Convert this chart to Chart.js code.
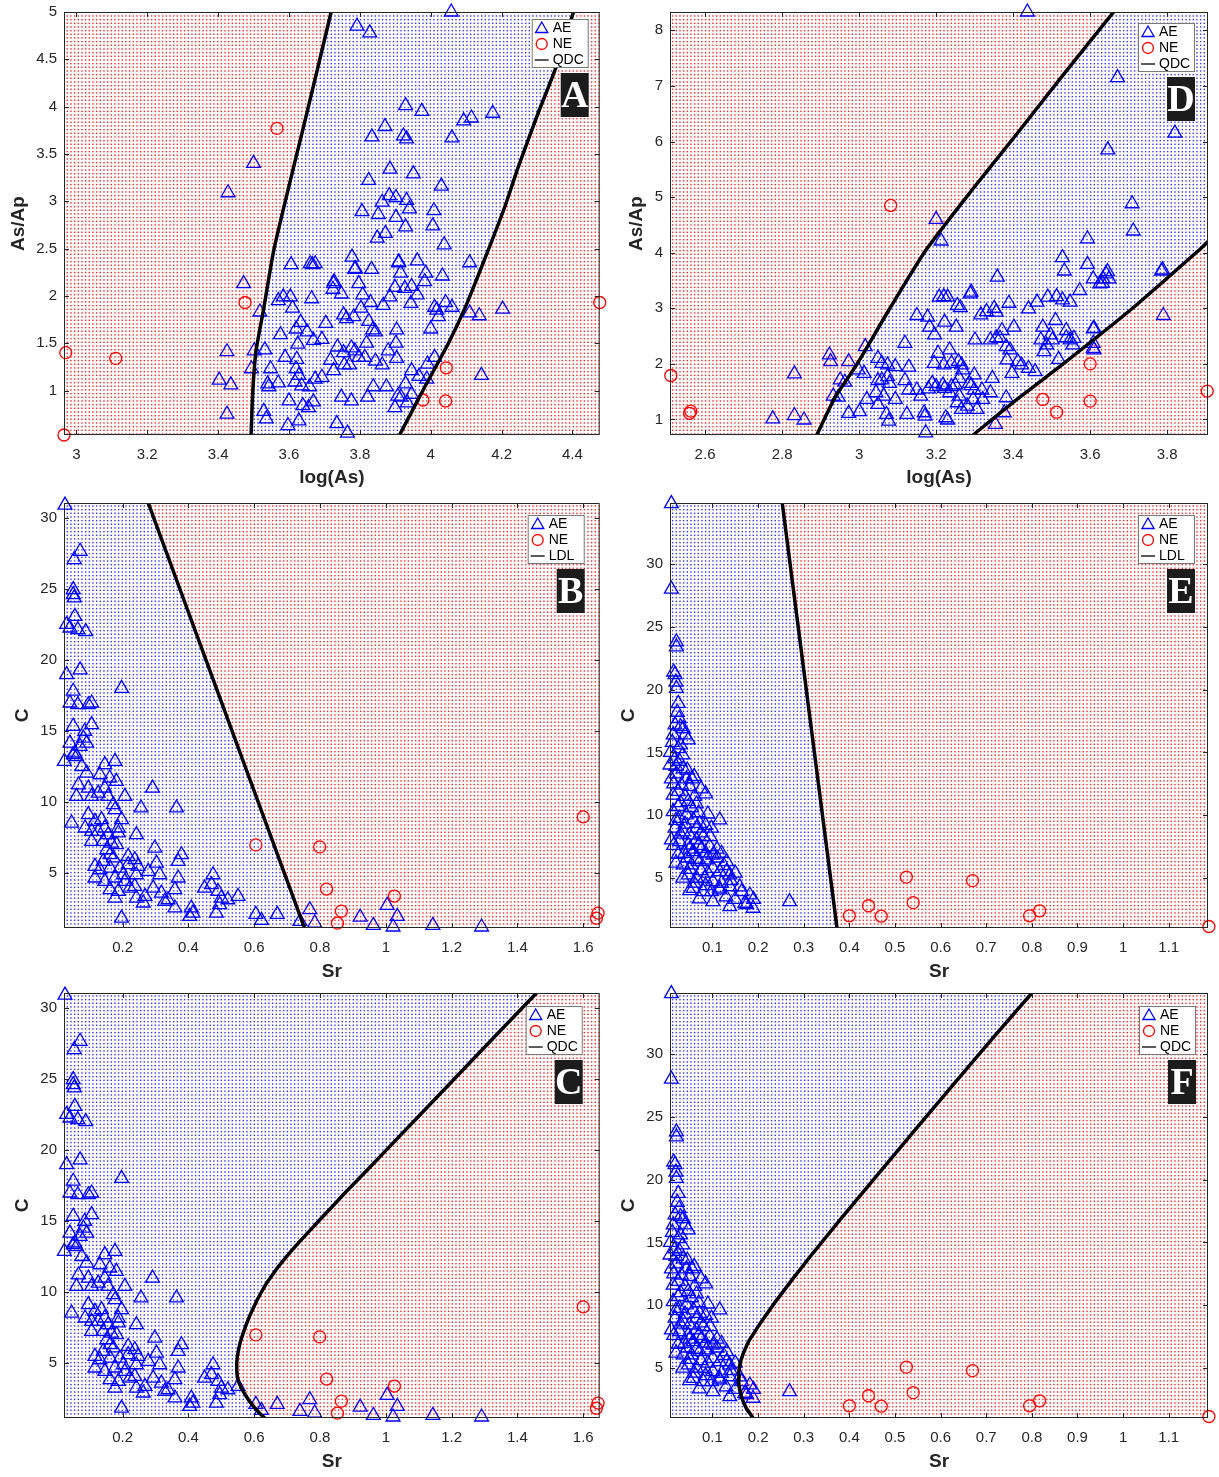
<!DOCTYPE html>
<html><head><meta charset="utf-8">
<script src="https://cdn.jsdelivr.net/npm/chart.js@4.4.1/dist/chart.umd.min.js"></script>
<style>
html,body{margin:0;padding:0;background:#fff;}
body{width:1219px;height:1477px;position:relative;overflow:hidden;}
canvas{position:absolute;}
</style></head><body>
<canvas id="cA" width="609" height="490" style="left:0px;top:0px"></canvas>
<canvas id="cD" width="610" height="490" style="left:609px;top:0px"></canvas>
<canvas id="cB" width="609" height="494" style="left:0px;top:490px"></canvas>
<canvas id="cE" width="610" height="494" style="left:609px;top:490px"></canvas>
<canvas id="cC" width="609" height="494" style="left:0px;top:980px"></canvas>
<canvas id="cF" width="610" height="494" style="left:609px;top:980px"></canvas>
<script>
// ---------------- DATA ----------------
// Panel A : log(As) vs As/Ap
const A_AE = [[4.058,5.0],[3.792,4.85],[3.828,4.78],[3.929,4.01],[3.975,3.95],[3.871,3.79],[3.834,3.68],[3.923,3.69],[3.932,3.66],[4.06,3.67],[4.093,3.85],[4.115,3.88],[4.175,3.93],[3.885,3.34],[3.951,3.29],[3.825,3.22],[4.03,3.16],[3.883,3.06],[3.902,3.04],[3.863,2.99],[3.932,3.01],[3.94,2.92],[3.806,2.89],[3.852,2.86],[3.902,2.83],[4.009,2.90],[3.929,2.73],[4.006,2.74],[3.849,2.61],[3.872,2.66],[4.038,2.54],[3.50,3.40],[3.428,3.09],
[3.472,2.13],[3.425,1.41],[3.403,1.11],[3.436,1.06],[3.425,0.75],[3.518,1.83],[3.502,1.42],[3.494,1.23],[3.532,1.43],[3.548,1.23],[3.54,1.07],[3.543,1.04],[3.529,0.78],[3.536,0.70],[3.606,2.33],[3.66,2.34],[3.674,2.34],[3.666,2.33],[3.778,2.41],[3.786,2.28],[3.833,2.28],[3.91,2.36],[3.915,2.24],[3.962,2.37],[3.986,2.24],[3.983,2.15],[4.033,2.21],[4.11,2.35],[3.584,1.99],[3.57,1.95],[3.604,1.99],[3.61,1.87],[3.664,1.97],[3.726,2.13],[3.724,2.07],[3.748,2.02],[3.797,2.13],[3.808,2.01],[3.83,1.93],[3.803,1.87],[3.866,1.90],[3.885,1.99],[3.899,2.09],[3.927,2.08],[3.946,2.10],[3.962,2.01],[3.944,1.92],[4.011,1.88],[4.017,1.85],[4.022,1.78],[4.042,1.93],[4.06,1.88],[4.11,1.82],[4.137,1.79],[4.203,1.86],[4.143,1.16],[3.633,1.72],[3.62,1.65],[3.576,1.59],[3.651,1.62],[3.625,1.49],[3.669,1.53],[3.693,1.54],[3.704,1.71],[3.754,1.80],[3.762,1.76],[3.783,1.78],[3.825,1.73],[3.836,1.64],[3.844,1.62],[3.819,1.50],[3.737,1.46],[3.754,1.40],[3.776,1.45],[3.797,1.35],[3.786,1.42],[3.88,1.42],[3.902,1.50],[3.904,1.64],[4.0,1.65],[4.011,1.35],[3.991,1.28],[3.946,1.21],[3.929,1.07],[3.946,0.96],[3.916,0.93],[3.899,0.82],[3.934,0.87],[3.989,1.12],[3.967,1.15],[3.875,1.04],[3.838,1.04],[3.822,0.93],[3.863,1.27],[3.844,1.31],[3.814,1.35],[3.717,1.32],[3.726,1.21],[3.756,1.27],[3.771,1.27],[3.693,1.14],[3.735,0.65],[3.765,0.55],[3.748,0.93],[3.776,0.89],[3.589,1.35],[3.622,1.33],[3.62,1.23],[3.628,1.16],[3.617,1.09],[3.57,1.08],[3.60,0.89],[3.658,1.04],[3.639,0.84],[3.655,0.82],[3.669,0.88],[3.597,0.63],[3.628,0.68],[3.674,1.12],[3.636,1.05],[3.904,1.34],[3.907,0.94],[3.909,2.35],[3.787,2.29],[3.727,2.15]];
const A_NE = [[3.476,1.93],[2.97,1.40],[3.111,1.34],[2.965,0.53],[4.477,1.93],[4.044,1.24],[4.042,0.89],[3.978,0.90],[3.566,3.77]];
const A_QDC_L = [[3.493,0.53],[3.498,1.0],[3.507,1.42],[3.527,1.83],[3.557,2.48],[3.596,3.1],[3.636,3.71],[3.678,4.36],[3.719,5.0]];
const A_QDC_R = [[3.912,0.53],[3.985,1.05],[4.05,1.5],[4.1,1.9],[4.162,2.48],[4.21,2.95],[4.247,3.36],[4.30,3.9],[4.353,4.41],[4.403,5.0]];
const A_X = [2.965, 4.477], A_Y = [0.53, 5.0];
const A_XT = [3,3.2,3.4,3.6,3.8,4,4.2,4.4];
const A_YT = [1,1.5,2,2.5,3,3.5,4,4.5,5];

// Panel D : log(As) vs As/Ap
const D_AE = [[2.776,1.01],[2.832,1.82],[2.832,1.07],[2.857,0.99],[2.923,2.16],[2.926,2.04],[2.933,1.42],[2.946,1.40],[2.951,1.71],[2.963,1.67],[2.973,2.04],[2.998,1.89],[3.013,1.83],[2.973,1.11],[3.001,1.14],[3.016,2.31],[3.02,1.36],[3.049,2.10],[3.059,2.01],[3.074,1.98],[3.094,1.95],[3.044,1.48],[3.049,1.70],[3.059,1.71],[3.074,1.77],[3.079,1.65],[3.064,1.42],[3.049,1.27],[3.071,1.09],[3.077,0.97],[3.094,1.36],[3.119,2.37],[3.129,1.94],[3.119,1.70],[3.129,1.53],[3.15,1.53],[3.15,2.87],[3.178,2.84],[3.183,2.66],[3.196,2.52],[3.208,3.20],[3.22,3.21],[3.23,3.20],[3.291,3.29],[3.289,3.26],[3.255,3.05],[3.263,3.01],[3.222,2.75],[3.252,2.66],[3.301,2.43],[3.316,2.88],[3.331,2.94],[3.351,3.00],[3.356,2.93],[3.359,3.56],[3.389,3.09],[3.44,2.99],[3.462,3.11],[3.49,3.20],[3.513,3.21],[3.528,3.15],[3.548,3.11],[3.528,3.91],[3.533,3.67],[3.573,3.32],[3.593,3.79],[3.608,3.53],[3.625,3.44],[3.633,3.53],[3.641,3.62],[3.649,3.53],[3.785,3.67],[3.79,2.87],[3.608,2.63],[3.608,2.28],[3.608,2.37],[3.477,2.66],[3.51,2.78],[3.538,2.60],[3.558,2.46],[3.472,2.43],[3.487,2.34],[3.502,2.43],[3.48,2.22],[3.497,2.52],[3.518,2.08],[3.538,2.47],[3.548,2.43],[3.555,2.34],[3.341,2.43],[3.356,2.47],[3.366,2.46],[3.371,2.60],[3.402,2.66],[3.382,2.31],[3.392,2.25],[3.384,2.07],[3.397,1.83],[3.412,2.04],[3.422,1.98],[3.44,1.92],[3.457,1.86],[3.346,1.74],[3.341,1.48],[3.382,1.39],[3.377,1.12],[3.354,0.91],[3.299,1.80],[3.319,1.53],[3.296,1.36],[3.299,1.53],[3.286,1.65],[3.291,1.61],[3.269,1.89],[3.26,1.74],[3.205,2.19],[3.195,2.01],[3.22,1.98],[3.24,2.01],[3.258,2.04],[3.266,1.98],[3.235,2.25],[3.19,1.65],[3.18,1.55],[3.2,1.59],[3.218,1.62],[3.24,1.59],[3.16,1.42],[3.169,1.12],[3.171,1.06],[3.173,0.76],[3.124,1.09],[3.225,1.03],[3.23,0.99],[3.255,1.30],[3.266,1.18],[3.281,1.24],[3.306,1.18],[3.25,1.62],[3.235,1.48],[3.222,1.56],[3.26,1.42],[3.321,1.36],[3.437,8.33],[3.671,7.15],[3.646,5.85],[3.82,6.15],[3.709,4.88],[3.712,4.39],[3.593,4.25],[3.20,4.60],[3.213,4.21],[3.645,3.66],[3.632,3.45],[3.788,3.69],[3.61,2.64],[3.61,2.25]];
const D_NE = [[2.511,1.79],[2.56,1.11],[2.563,1.15],[3.477,1.36],[3.513,1.13],[3.60,1.33],[3.60,2.0],[3.904,1.51],[3.082,4.85]];
const D_QDC_L = [[2.89,0.72],[2.938,1.4],[2.995,2.0],[3.08,3.0],[3.175,4.06],[3.29,5.1],[3.41,6.14],[3.53,7.2],[3.661,8.33]];
const D_QDC_R = [[3.296,0.72],[3.41,1.36],[3.53,2.0],[3.71,3.0],[3.88,4.03],[3.906,4.2]];
const D_X = [2.509, 3.906], D_Y = [0.72, 8.33];
const D_XT = [2.6,2.8,3,3.2,3.4,3.6,3.8];
const D_YT = [1,2,3,4,5,6,7,8];

// Panels B & C : Sr vs C (same samples)
const BC_AE = [[0.025,30.9],[0.071,27.65],[0.053,27.07],[0.05,24.95],[0.05,24.6],[0.053,24.37],[0.055,23.07],[0.03,22.5],[0.04,22.25],[0.064,22.14],[0.088,22.0],[0.03,18.97],[0.071,19.3],[0.197,18.0],[0.05,17.8],[0.04,16.97],[0.064,16.85],[0.096,16.85],[0.106,16.97],[0.05,15.33],[0.085,14.98],[0.106,15.45],[0.04,14.15],[0.055,13.45],[0.071,13.92],[0.091,14.15],[0.081,14.5],[0.023,12.86],[0.05,13.33],[0.06,13.2],[0.076,12.5],[0.091,12.04],[0.146,12.63],[0.177,12.86],[0.131,11.92],[0.161,11.69],[0.181,11.45],[0.066,11.2],[0.06,10.4],[0.096,10.98],[0.106,10.4],[0.126,10.63],[0.146,10.98],[0.156,10.4],[0.207,10.4],[0.172,9.81],[0.291,10.98],[0.256,9.58],[0.364,9.58],[0.045,8.52],[0.096,9.11],[0.116,8.64],[0.136,8.76],[0.177,9.46],[0.197,8.76],[0.086,8.17],[0.106,7.93],[0.126,7.93],[0.146,8.17],[0.156,7.7],[0.187,8.17],[0.106,7.23],[0.141,7.23],[0.166,7.11],[0.187,7.82],[0.242,7.7],[0.152,6.64],[0.162,6.29],[0.182,7.0],[0.172,6.06],[0.217,6.17],[0.237,5.94],[0.298,6.76],[0.141,5.82],[0.116,5.47],[0.131,5.23],[0.162,5.35],[0.192,5.35],[0.217,5.59],[0.247,5.47],[0.202,4.88],[0.242,4.88],[0.116,4.65],[0.146,4.41],[0.177,4.65],[0.207,4.41],[0.237,4.06],[0.162,3.83],[0.187,3.71],[0.222,3.94],[0.278,5.12],[0.313,4.88],[0.303,5.7],[0.369,5.82],[0.379,6.29],[0.369,4.65],[0.359,3.83],[0.293,3.94],[0.318,3.59],[0.268,3.36],[0.242,3.24],[0.263,2.89],[0.177,3.24],[0.338,3.12],[0.359,2.54],[0.328,3.0],[0.197,1.83],[0.409,2.54],[0.414,2.18],[0.404,1.95],[0.449,3.94],[0.475,4.88],[0.47,4.18],[0.49,3.71],[0.5,3.24],[0.52,3.12],[0.551,3.36],[0.495,2.77],[0.485,2.18],[0.605,2.09],[0.622,1.67],[0.67,2.09],[0.739,1.6],[0.769,2.42],[0.784,1.48],[0.922,1.9],[0.962,1.31],[1.004,2.72],[1.035,1.95],[1.022,1.2],[1.143,1.31],[1.291,1.2]];
const BC_NE = [[0.605,6.98],[0.799,6.84],[0.82,3.87],[0.865,2.32],[0.853,1.47],[1.026,3.38],[1.6,8.95],[1.645,2.18],[1.64,1.82]];
const B_LDL = [[0.278,31.05],[0.753,1.13]];
const C_QDC = [[0.632,1.13],[0.615,1.5],[0.6,1.9],[0.586,2.3],[0.572,2.8],[0.562,3.2],[0.554,3.6],[0.549,4.0],[0.547,4.5],[0.547,5.0],[0.549,5.5],[0.553,6.0],[0.558,6.5],[0.565,7.0],[0.574,7.6],[0.584,8.2],[0.596,8.8],[0.608,9.4],[0.622,10.0],[0.637,10.6],[0.655,11.2],[0.674,11.8],[0.695,12.4],[0.717,13.0],[0.74,13.6],[0.764,14.2],[0.796,15.0],[0.837,16.0],[0.877,17.0],[0.94,18.5],[1.01,20.2],[1.105,22.5],[1.208,25.0],[1.332,28.0],[1.458,31.05]];
const BC_X = [0.022, 1.65], BC_Y = [1.13, 31.05];
const BC_XT = [0.2,0.4,0.6,0.8,1,1.2,1.4,1.6];
const BC_YT = [5,10,15,20,25,30];

// Panels E & F : Sr vs C (same samples)
const EF_AE = [[0.01,34.8],[0.01,28.0],[0.021,23.8],[0.021,23.4],[0.015,21.4],[0.018,21.2],[0.02,20.6],[0.021,20.1],[0.025,18.9],[0.023,18.2],[0.027,17.7],[0.018,17.2],[0.03,17.05],[0.036,16.9],[0.047,16.0],[0.04,16.4],[0.014,16.4],[0.025,15.3],[0.018,14.5],[0.007,14.0],[0.028,14.3],[0.036,13.7],[0.021,13.3],[0.01,12.9],[0.043,12.9],[0.032,12.4],[0.05,12.3],[0.061,11.5],[0.014,11.6],[0.04,11.5],[0.025,10.7],[0.047,11.1],[0.054,10.6],[0.116,9.63],[0.098,8.97],[0.014,10.29],[0.028,9.76],[0.043,10.03],[0.058,9.63],[0.072,9.36],[0.018,8.97],[0.036,8.7],[0.05,8.44],[0.065,8.97],[0.01,8.04],[0.028,7.9],[0.047,7.64],[0.065,8.04],[0.08,8.3],[0.039,6.98],[0.058,7.11],[0.076,7.37],[0.094,7.51],[0.101,6.84],[0.12,6.98],[0.131,6.31],[0.138,5.25],[0.036,6.05],[0.054,6.05],[0.072,6.31],[0.087,6.45],[0.101,5.78],[0.116,5.52],[0.131,5.52],[0.047,5.25],[0.065,4.99],[0.083,4.99],[0.101,4.72],[0.12,4.59],[0.138,4.32],[0.058,4.19],[0.08,3.93],[0.098,3.93],[0.116,4.06],[0.071,3.34],[0.101,3.13],[0.138,2.73],[0.164,3.93],[0.171,3.0],[0.182,3.66],[0.189,2.6],[0.269,3.13],[0.012,15.8],[0.03,15.6],[0.008,15.0],[0.035,14.8],[0.02,13.9],[0.045,13.6],[0.06,13.1],[0.015,12.5],[0.055,12.9],[0.075,12.1],[0.025,11.9],[0.085,11.7],[0.03,11.0],[0.065,10.9],[0.07,10.2],[0.09,10.1],[0.02,9.6],[0.04,9.3],[0.085,9.2],[0.03,8.5],[0.075,8.6],[0.095,8.3],[0.015,7.6],[0.05,7.3],[0.07,7.6],[0.085,7.0],[0.11,7.3],[0.025,6.9],[0.045,6.6],[0.065,6.5],[0.11,6.6],[0.125,6.0],[0.02,6.2],[0.05,5.7],[0.075,5.6],[0.09,5.4],[0.15,5.4],[0.035,5.0],[0.06,4.6],[0.085,4.4],[0.115,4.2],[0.14,4.8],[0.16,4.3],[0.05,4.0],[0.13,3.5],[0.15,3.3],[0.175,2.9],[0.19,3.3]];
const EF_NE = [[0.40,2.0],[0.442,2.8],[0.47,1.97],[0.525,5.08],[0.54,3.05],[0.67,4.8],[0.795,2.0],[0.817,2.4],[1.188,1.15]];
const E_LDL = [[0.253,34.85],[0.373,1.03]];
const F_QDC = [[0.189,1.03],[0.182,1.4],[0.175,1.74],[0.169,2.2],[0.163,2.8],[0.159,3.4],[0.157,4.1],[0.158,4.8],[0.161,5.45],[0.169,6.3],[0.18,7.17],[0.206,8.64],[0.237,10.23],[0.276,12.1],[0.317,14.0],[0.384,17.0],[0.453,20.0],[0.545,24.0],[0.638,28.0],[0.72,31.5],[0.80,34.85]];
const EF_X = [0.007, 1.186], EF_Y = [1.03, 34.85];
const EF_XT = [0.1,0.2,0.3,0.4,0.5,0.6,0.7,0.8,0.9,1,1.1];
const EF_YT = [5,10,15,20,25,30];

// ---------------- RENDERING ----------------
const FONT = "'Liberation Sans', Arial, Helvetica, sans-serif";
const SERIF = "'Liberation Serif', 'Times New Roman', Times, serif";
const AXC = '#262626';
Chart.defaults.font.family = FONT;

const xy = a => a.map(p => ({x: p[0], y: p[1]}));
const fmt = v => String(Math.round(v * 100) / 100);

function dotTile(color) {
  const n = 11, c = document.createElement('canvas');
  c.width = n; c.height = n;
  const g = c.getContext('2d');
  g.fillStyle = '#fff'; g.fillRect(0, 0, n, n);
  g.fillStyle = color;
  for (let i = 0; i < 3; i++) for (let j = 0; j < 3; j++) g.fillRect(i * n / 3 + 0.6, j * n / 3 + 0.6, 1.4, 1.4);
  return c;
}

function decoPlugin(p, redPat) {
  return {
    id: 'deco',
    beforeDatasetsDraw(chart) {
      const {ctx, chartArea: a} = chart;
      ctx.save();
      ctx.fillStyle = redPat;
      ctx.fillRect(a.left, a.top, a.right - a.left, a.bottom - a.top);
      ctx.restore();
    },
    afterDatasetsDraw(chart) {
      const {ctx, chartArea: a, scales: {x, y}} = chart;
      ctx.save();
      ctx.strokeStyle = AXC; ctx.lineWidth = 1;
      ctx.beginPath();
      p.xt.forEach(t => {
        const px = Math.round(x.getPixelForValue(t)) + 0.5;
        ctx.moveTo(px, a.bottom); ctx.lineTo(px, a.bottom - 5);
        ctx.moveTo(px, a.top); ctx.lineTo(px, a.top + 5);
      });
      p.yt.forEach(t => {
        const py = Math.round(y.getPixelForValue(t)) + 0.5;
        ctx.moveTo(a.left, py); ctx.lineTo(a.left + 5, py);
        ctx.moveTo(a.right, py); ctx.lineTo(a.right - 5, py);
      });
      ctx.stroke();
      ctx.strokeRect(a.left + 0.5, a.top + 0.5, a.right - a.left - 1, a.bottom - a.top - 1);
      ctx.restore();
    },
    afterDraw(chart) {
      const {ctx, chartArea: a} = chart;
      const W = 57, H = 49;
      const bx = a.right - p.legR - W, by = a.top + p.legT;
      ctx.save();
      ctx.fillStyle = '#fff'; ctx.fillRect(bx, by, W, H);
      ctx.strokeStyle = '#7a7a7a'; ctx.lineWidth = 1;
      ctx.strokeRect(bx + 0.5, by + 0.5, W - 1, H - 1);
      const rows = [by + 9, by + 25, by + 41];
      const cx = bx + 10;
      // triangle
      ctx.strokeStyle = '#0000ff'; ctx.lineWidth = 1.3;
      const r = 7;
      ctx.beginPath();
      ctx.moveTo(cx, rows[0] - r + 1);
      ctx.lineTo(cx + r * 0.866, rows[0] + r / 2 + 1);
      ctx.lineTo(cx - r * 0.866, rows[0] + r / 2 + 1);
      ctx.closePath(); ctx.stroke();
      // circle
      ctx.strokeStyle = '#ff0000';
      ctx.beginPath(); ctx.arc(cx, rows[1], 5.5, 0, Math.PI * 2); ctx.stroke();
      // line
      ctx.strokeStyle = '#333'; ctx.lineWidth = 1.6;
      ctx.beginPath(); ctx.moveTo(bx + 3, rows[2]); ctx.lineTo(bx + 17, rows[2]); ctx.stroke();
      ctx.fillStyle = '#000'; ctx.font = '14px ' + FONT; ctx.textBaseline = 'middle'; ctx.textAlign = 'left';
      const labels = ['AE', 'NE', p.lineLabel];
      labels.forEach((t, i) => ctx.fillText(t, bx + 21, rows[i] + 0.5));
      // letter box
      const lw = 28, lh = 44;
      const lx = bx + W - lw, ly = by + H + 5;
      ctx.fillStyle = '#1c1c1c'; ctx.fillRect(lx, ly, lw, lh);
      ctx.fillStyle = '#fff'; ctx.font = 'bold 38px ' + SERIF; ctx.textAlign = 'center'; ctx.textBaseline = 'middle';
      ctx.fillText(p.letter, lx + lw / 2, ly + lh / 2 + 2);
      ctx.restore();
    }
  };
}

function makePanel(p) {
  const cv = document.getElementById(p.id);
  const c2 = cv.getContext('2d');
  const redPat = c2.createPattern(dotTile('rgba(255,0,0,0.85)'), 'repeat');
  const bluePat = c2.createPattern(dotTile('rgba(0,0,255,0.8)'), 'repeat');
  const ds = [];
  p.curves.forEach(c => ds.push({type: 'line', data: xy(c), borderColor: '#000', borderWidth: 3.5,
    pointRadius: 0, fill: false, tension: p.tension, clip: 0, order: 0}));
  ds.push({type: 'scatter', data: xy(p.ae), pointStyle: 'triangle', pointRadius: 8, borderColor: '#0000ff',
    backgroundColor: 'rgba(0,0,0,0)', borderWidth: 1.3, clip: false, order: 2});
  ds.push({type: 'scatter', data: xy(p.ne), pointStyle: 'circle', pointRadius: 6, borderColor: '#ff0000',
    backgroundColor: 'rgba(0,0,0,0)', borderWidth: 1.3, clip: false, order: 1});
  ds.push({type: 'line', data: xy(p.region), borderColor: 'rgba(0,0,0,0)', borderWidth: 0,
    backgroundColor: bluePat, fill: 'shape', pointRadius: 0, tension: 0, order: 10});

  const tickFont = {size: 15, family: FONT};
  const titleFont = {size: 19, weight: 'bold', family: FONT};
  new Chart(cv, {
    type: 'scatter',
    data: {datasets: ds},
    options: {
      responsive: false, animation: false, events: [],
      layout: {padding: {top: p.padTop, right: p.padRight, left: 0, bottom: 0}},
      plugins: {legend: {display: false}, tooltip: {enabled: false}},
      scales: {
        x: {
          type: 'linear', min: p.xr[0], max: p.xr[1],
          afterBuildTicks: s => { s.ticks = p.xt.map(v => ({value: v})); },
          afterFit: s => { s.height = p.xH; s.paddingLeft = 0; s.paddingRight = 0; },
          grid: {display: false, drawTicks: false}, border: {display: false},
          ticks: {padding: 11, color: AXC, font: tickFont, callback: v => fmt(v), maxRotation: 0, autoSkip: false},
          title: {display: true, text: p.xTitle, color: AXC, font: titleFont, padding: {top: 0, bottom: 1}}
        },
        y: {
          type: 'linear', min: p.yr[0], max: p.yr[1],
          afterBuildTicks: s => { s.ticks = p.yt.map(v => ({value: v})); },
          afterFit: s => { s.width = p.yW; s.paddingTop = 0; s.paddingBottom = 0; },
          grid: {display: false, drawTicks: false}, border: {display: false},
          ticks: {padding: 7, color: AXC, font: tickFont, callback: v => fmt(v), autoSkip: false},
          title: {display: true, text: p.yTitle, color: AXC, font: titleFont, padding: {top: p.yTitlePad, bottom: 0}}
        }
      }
    },
    plugins: [decoPlugin(p, redPat)]
  });
}

const rev = a => a.slice().reverse();

makePanel({id: 'cA', ae: A_AE, ne: A_NE, curves: [A_QDC_L, A_QDC_R], tension: 0.2,
  region: A_QDC_L.concat(rev(A_QDC_R)),
  xr: A_X, yr: A_Y, xt: A_XT, yt: A_YT, xTitle: 'log(As)', yTitle: 'As/Ap',
  padTop: 12, padRight: 8, yW: 64, xH: 55, yTitlePad: 7, lineLabel: 'QDC', letter: 'A', legR: 11, legT: 7});

makePanel({id: 'cD', ae: D_AE, ne: D_NE, curves: [D_QDC_L, D_QDC_R], tension: 0.2,
  region: D_QDC_L.concat([[D_X[1] + 0.05, D_Y[1] + 0.5]], rev(D_QDC_R)),
  xr: D_X, yr: D_Y, xt: D_XT, yt: D_YT, xTitle: 'log(As)', yTitle: 'As/Ap',
  padTop: 12, padRight: 11, yW: 61, xH: 55, yTitlePad: 16, lineLabel: 'QDC', letter: 'D', legR: 13, legT: 11});

makePanel({id: 'cB', ae: BC_AE, ne: BC_NE, curves: [B_LDL], tension: 0,
  region: [[BC_X[0], BC_Y[1]]].concat(B_LDL, [[BC_X[0], BC_Y[0]]]),
  xr: BC_X, yr: BC_Y, xt: BC_XT, yt: BC_YT, xTitle: 'Sr', yTitle: 'C',
  padTop: 13, padRight: 8, yW: 64, xH: 56, yTitlePad: 11, lineLabel: 'LDL', letter: 'B', legR: 15, legT: 12});

makePanel({id: 'cE', ae: EF_AE, ne: EF_NE, curves: [E_LDL], tension: 0,
  region: [[EF_X[0], EF_Y[1]]].concat(E_LDL, [[EF_X[0], EF_Y[0]]]),
  xr: EF_X, yr: EF_Y, xt: EF_XT, yt: EF_YT, xTitle: 'Sr', yTitle: 'C',
  padTop: 13, padRight: 11, yW: 61, xH: 56, yTitlePad: 8, lineLabel: 'LDL', letter: 'E', legR: 13, legT: 12});

makePanel({id: 'cC', ae: BC_AE, ne: BC_NE, curves: [C_QDC], tension: 0,
  region: [[BC_X[0], BC_Y[0]]].concat(C_QDC, [[BC_X[0], BC_Y[1]]]),
  xr: BC_X, yr: BC_Y, xt: BC_XT, yt: BC_YT, xTitle: 'Sr', yTitle: 'C',
  padTop: 13, padRight: 8, yW: 64, xH: 56, yTitlePad: 11, lineLabel: 'QDC', letter: 'C', legR: 17, legT: 13});

makePanel({id: 'cF', ae: EF_AE, ne: EF_NE, curves: [F_QDC], tension: 0,
  region: [[EF_X[0], EF_Y[0]]].concat(F_QDC, [[EF_X[0], EF_Y[1]]]),
  xr: EF_X, yr: EF_Y, xt: EF_XT, yt: EF_YT, xTitle: 'Sr', yTitle: 'C',
  padTop: 13, padRight: 11, yW: 61, xH: 56, yTitlePad: 8, lineLabel: 'QDC', letter: 'F', legR: 12, legT: 13});
</script>
</body></html>
